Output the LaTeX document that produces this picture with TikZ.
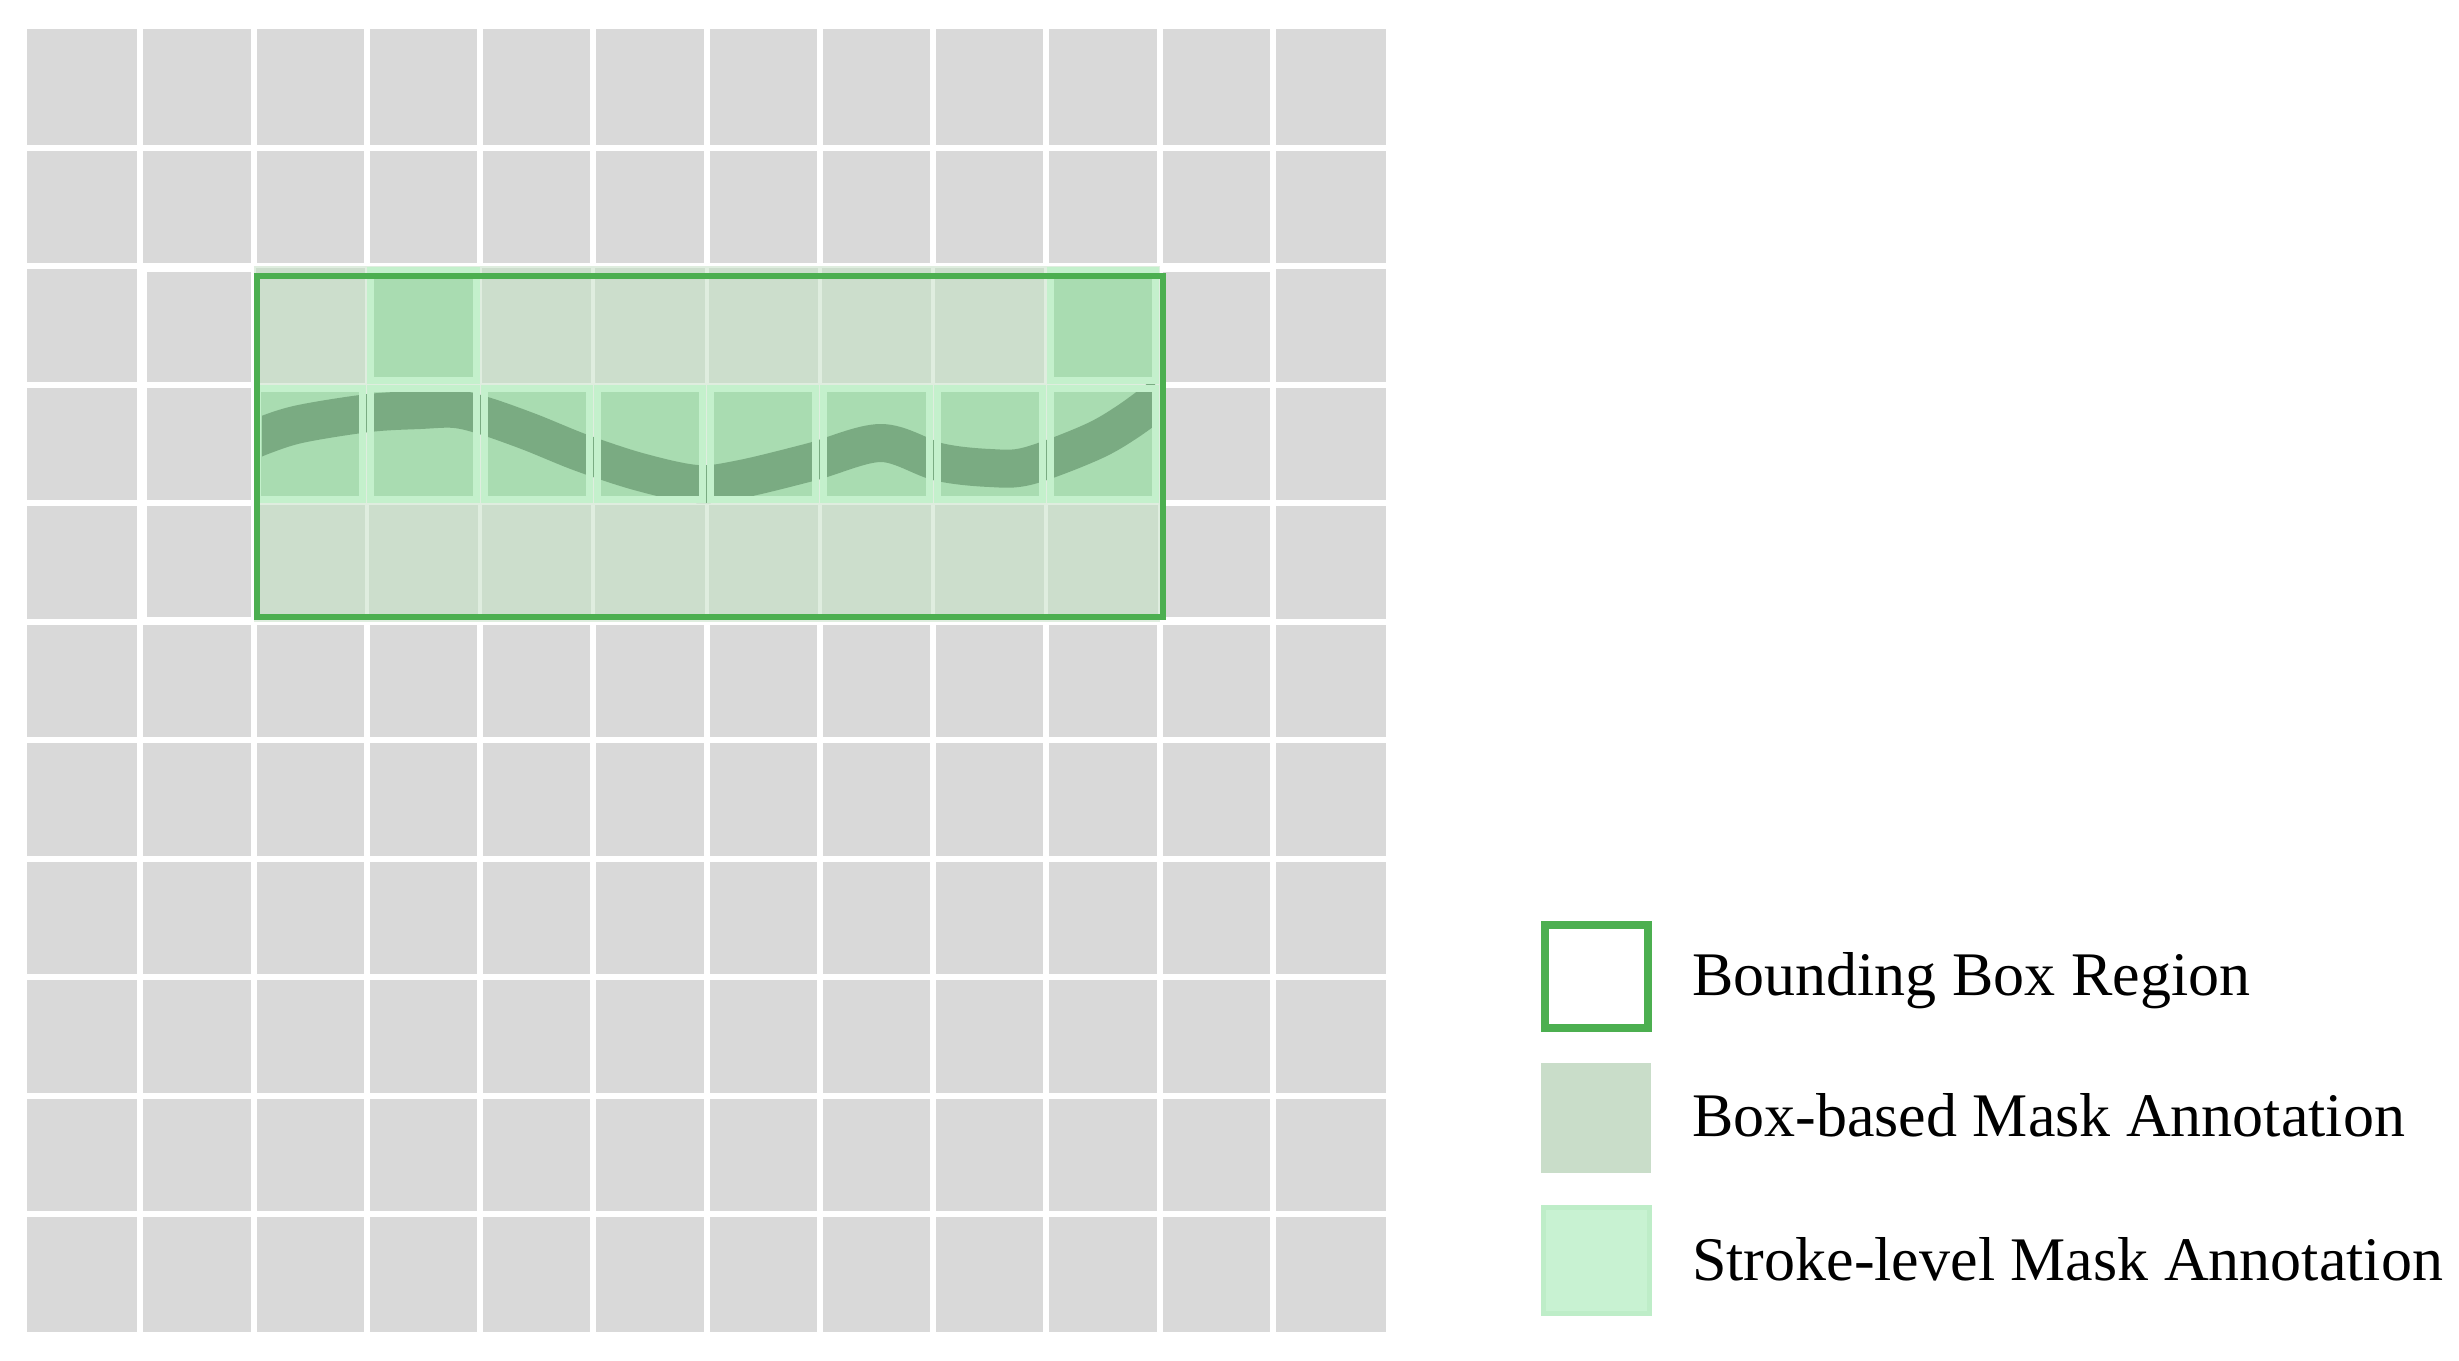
\documentclass[tikz,border=0pt]{standalone}
\usepackage{fontspec}
\setmainfont{Liberation Serif}
\definecolor{cellgray}{HTML}{D9D9D9}
\definecolor{boxfill}{HTML}{CCDECC}
\definecolor{boxgap}{HTML}{DFEDDF}
\definecolor{strokefill}{HTML}{A9DCB1}
\definecolor{strokeedge}{HTML}{C4F0CC}
\definecolor{darkstroke}{HTML}{7AAB82}
\definecolor{boxgreen}{HTML}{4CAF50}
\definecolor{legboxfill}{HTML}{C9DDC9}
\definecolor{legstrokefill}{HTML}{C8F2D2}
\definecolor{legstrokeedge}{HTML}{BEEDC8}
\begin{document}
\begin{tikzpicture}[x=1pt,y=-1pt,
  gapline/.style={white, line width=6pt},
  boxcell/.style={fill=boxfill},
  strokecellfill/.style={fill=strokefill},
  strokecelledge/.style={draw=strokeedge, line width=7pt},
  inkstroke/.style={draw=darkstroke, line width=38pt, line cap=butt, line join=round},
  bboxline/.style={draw=boxgreen, line width=6pt},
  legtext/.style={anchor=base west, inner sep=0pt, font={\fontsize{62}{74}\selectfont}}]
\useasboundingbox (0,0) rectangle (2459,1360);
\fill[white] (0,0) rectangle (2459,1360);
% gray grid
\fill[cellgray] (27,29) rectangle (1386,1332);
\foreach \i in {1,...,11} \draw[gapline] ({27+\i*113.25},29) -- ({27+\i*113.25},1332);
\foreach \j in {1,...,10} \draw[gapline] (27,{29+\j*118.5}) -- (1386,{29+\j*118.5});
% white outline around region
\draw[white, line width=5pt] (144,269) rectangle (1273,619);
% box-based mask cells
\fill[boxgap] (253.5,266) rectangle (1159.5,621.5);
\foreach \i in {2,...,9} \foreach \j in {2,3,4}
  \fill[boxcell] ({27+\i*113.25+2},{29+\j*118.5+2}) rectangle ({27+(\i+1)*113.25-2},{29+(\j+1)*118.5-2});
% stroke-level cells (fill)
\foreach \i/\j in {2/3,3/3,4/3,5/3,6/3,7/3,8/3,9/3,3/2,9/2}
  \fill[strokecellfill] ({27+\i*113.25+2},{29+\j*118.5+2}) rectangle ({27+(\i+1)*113.25-2},{29+(\j+1)*118.5-2});
% the ink stroke
\begin{scope}
  \clip (262,350) rectangle (1155,530);
  \draw[inkstroke] plot[smooth, tension=0.55] coordinates {(240,446) (262,436) (300,424) (369,413) (420,410) (455,409) (485,416) (530,432) (582,453) (640,472) (697,484) (741,479) (811,462) (881,443) (939,462) (990,468) (1028,466) (1092,442) (1130,420) (1170,390)};
\end{scope}
% stroke-level cells (edges)
\foreach \i/\j in {2/3,3/3,4/3,5/3,6/3,7/3,8/3,9/3,3/2,9/2}
  \draw[strokecelledge] ({27+\i*113.25+4},{29+\j*118.5+4}) rectangle ({27+(\i+1)*113.25-4},{29+(\j+1)*118.5-4});
% bounding box
\draw[bboxline] (257,276) rectangle (1163,617);
% legend
\node[draw=boxgreen, line width=8pt, fill=white, minimum size=103pt, inner sep=0pt] (lgbox) at (1596.5,976.5) {};
\node[fill=legboxfill, minimum size=110pt, inner sep=0pt] (lgmask) at (1596,1118) {};
\node[fill=legstrokefill, draw=legstrokeedge, line width=5pt, minimum size=106pt, inner sep=0pt] (lgstroke) at (1596,1260.5) {};
\node[legtext] (tbox) at (1692,995) {Bounding Box Region};
\node[legtext] (tmask) at (1692,1136) {Box-based Mask Annotation};
\node[legtext] (tstroke) at (1692,1280) {Stroke-level Mask Annotation};
\end{tikzpicture}
\end{document}
